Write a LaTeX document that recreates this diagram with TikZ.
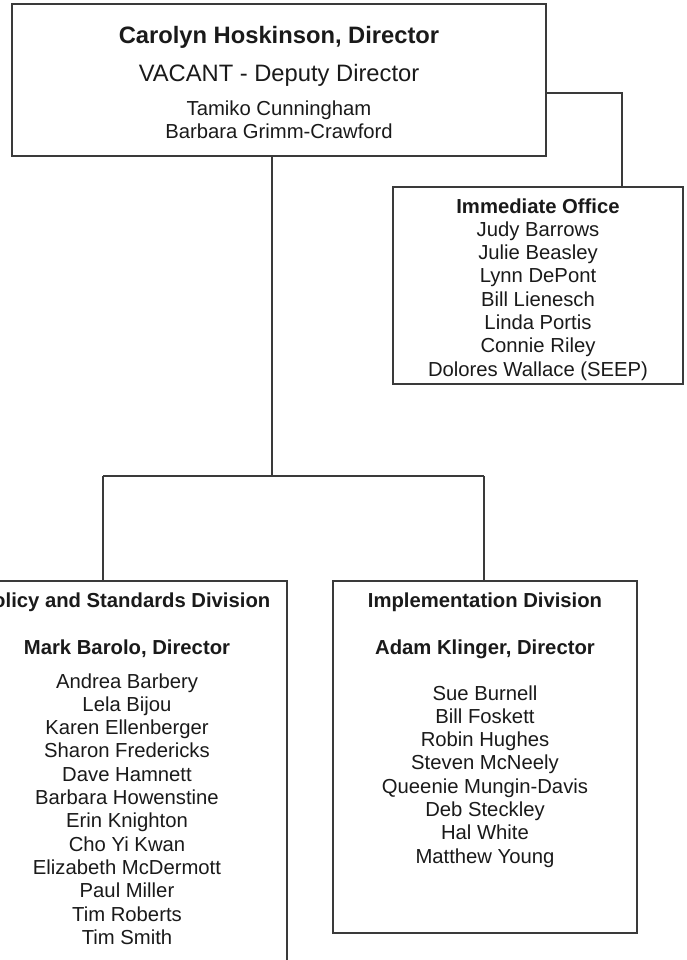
\documentclass[tikz,border=0pt]{standalone}
\usepackage{fontspec}
\setmainfont{Liberation Sans}
\definecolor{linecol}{HTML}{3A3A3A}
\definecolor{textcol}{HTML}{1A1A1A}
\begin{document}
\begin{tikzpicture}[x=0.75pt,y=-0.75pt,
  box/.style={draw=linecol, line width=1pt, rectangle, inner sep=0pt},
  conn/.style={draw=linecol, line width=1pt},
  nm/.style={anchor=base, inner sep=0pt, text=textcol, font=\fontsize{15.2}{17.5}\selectfont},
  nmb/.style={nm, font=\fontsize{15.2}{17.5}\selectfont\bfseries},
  ttl/.style={nm, font=\fontsize{17.8}{21}\selectfont},
  ttlb/.style={nm, font=\fontsize{17.8}{21}\selectfont\bfseries}]
\useasboundingbox (0,0) rectangle (686,960);
\fill[white] (0,0) rectangle (686,960);

% boxes
\node[box, minimum width=400.5pt, minimum height=114pt] (top) at (279,80) {};
\node[box, minimum width=217.5pt, minimum height=147.75pt] (imm) at (538,285.5) {};
\node[box, minimum width=237pt, minimum height=314.25pt] (left) at (129,790.5) {};
\node[box, minimum width=228pt, minimum height=264pt] (right) at (485,757) {};

% connector points
\coordinate (bus) at (272,476);
\coordinate (bL) at (103,476);
\coordinate (bR) at (484,476);
\coordinate (io) at (622,93);

\draw[conn] (top.south -| bus) -- (bus);
\draw[conn] (bL) -- (bR);
\draw[conn] (bL) -- (bL |- left.north);
\draw[conn] (bR) -- (bR |- right.north);
\draw[conn] (top.east |- io) -- (io) -- (io |- imm.north);

% top box text
\node[ttlb] (t1) at (279,43) {Carolyn Hoskinson, Director};
\node[ttl] (t2) at (279,81) {VACANT - Deputy Director};
\node[nm] (t3) at (279,115) {Tamiko Cunningham};
\node[nm] (t4) at (279,138) {Barbara Grimm-Crawford};

% immediate office
\node[nmb] (i0) at (538,213) {Immediate Office};
\node[nm] (i1) at (538,236.3) {Judy Barrows};
\node[nm] (i2) at (538,259.6) {Julie Beasley};
\node[nm] (i3) at (538,282.9) {Lynn DePont};
\node[nm] (i4) at (538,306.2) {Bill Lienesch};
\node[nm] (i5) at (538,329.5) {Linda Portis};
\node[nm] (i6) at (538,352.8) {Connie Riley};
\node[nm] (i7) at (538,376.1) {Dolores Wallace (SEEP)};

% policy and standards division
\node[nmb] (p0) at (125,607) {Policy and Standards Division};
\node[nmb] (p1) at (127,654) {Mark Barolo, Director};
\node[nm] (p2) at (127,688) {Andrea Barbery};
\node[nm] (p3) at (127,711.3) {Lela Bijou};
\node[nm] (p4) at (127,734.6) {Karen Ellenberger};
\node[nm] (p5) at (127,757.9) {Sharon Fredericks};
\node[nm] (p6) at (127,781.2) {Dave Hamnett};
\node[nm] (p7) at (127,804.5) {Barbara Howenstine};
\node[nm] (p8) at (127,827.8) {Erin Knighton};
\node[nm] (p9) at (127,851.1) {Cho Yi Kwan};
\node[nm] (p10) at (127,874.4) {Elizabeth McDermott};
\node[nm] (p11) at (127,897.7) {Paul Miller};
\node[nm] (p12) at (127,921) {Tim Roberts};
\node[nm] (p13) at (127,944.3) {Tim Smith};

% implementation division
\node[nmb] (m0) at (485,607) {Implementation Division};
\node[nmb] (m1) at (485,654) {Adam Klinger, Director};
\node[nm] (m2) at (485,700) {Sue Burnell};
\node[nm] (m3) at (485,723.3) {Bill Foskett};
\node[nm] (m4) at (485,746.6) {Robin Hughes};
\node[nm] (m5) at (485,769.9) {Steven McNeely};
\node[nm] (m6) at (485,793.2) {Queenie Mungin-Davis};
\node[nm] (m7) at (485,816.5) {Deb Steckley};
\node[nm] (m8) at (485,839.8) {Hal White};
\node[nm] (m9) at (485,863.1) {Matthew Young};
\end{tikzpicture}
\end{document}
